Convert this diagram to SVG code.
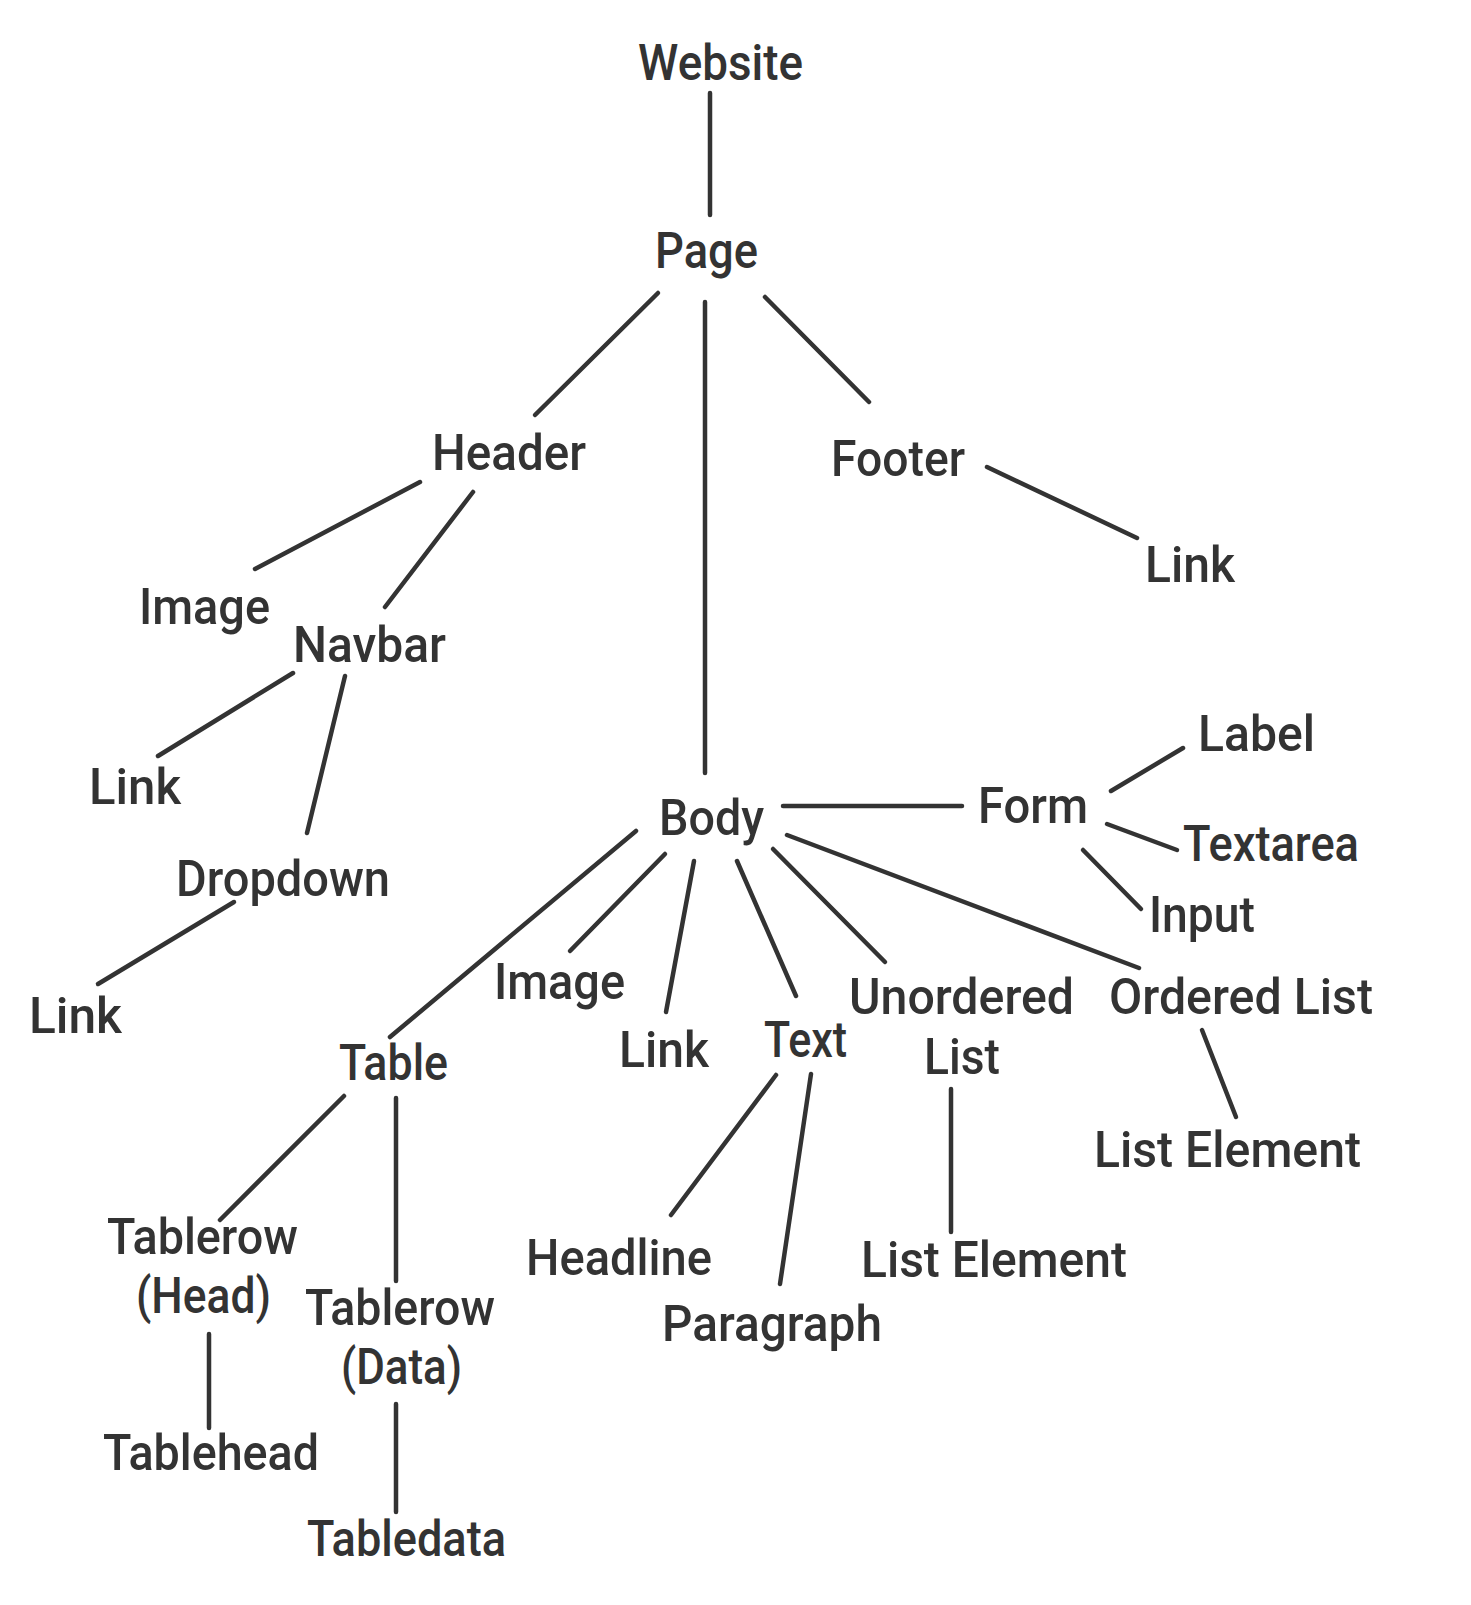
<svg xmlns="http://www.w3.org/2000/svg" width="1471" height="1605" viewBox="0 0 1471 1605">
<style>
  .t { font-family: Roboto, "Liberation Sans", sans-serif; font-size: 50px; font-weight: 500; fill: #333333; }
  .c line { stroke: #333333; stroke-width: 4.5; stroke-linecap: round; fill: none; }
</style>
<rect width="1471" height="1605" fill="#ffffff"/>
<g class="c" id="connectors">
  <line x1="710" y1="93" x2="710" y2="215"/>
  <line x1="658" y1="293" x2="535" y2="415"/>
  <line x1="705" y1="302" x2="705" y2="773"/>
  <line x1="765" y1="297" x2="869" y2="402"/>
  <line x1="420" y1="482" x2="255" y2="569"/>
  <line x1="473" y1="492" x2="385" y2="607"/>
  <line x1="987" y1="467" x2="1137" y2="538"/>
  <line x1="293" y1="673" x2="158" y2="756"/>
  <line x1="345" y1="676" x2="307" y2="833"/>
  <line x1="234" y1="902" x2="98" y2="984"/>
  <line x1="783" y1="806" x2="962" y2="806"/>
  <line x1="1111" y1="791" x2="1183" y2="748"/>
  <line x1="1107" y1="824" x2="1177" y2="850"/>
  <line x1="1083" y1="850" x2="1141" y2="909"/>
  <line x1="636" y1="831" x2="390" y2="1037"/>
  <line x1="665" y1="854" x2="570" y2="951"/>
  <line x1="694" y1="861" x2="666" y2="1012"/>
  <line x1="737" y1="861" x2="796" y2="996"/>
  <line x1="773" y1="849" x2="885" y2="962"/>
  <line x1="787" y1="835" x2="1139" y2="968"/>
  <line x1="1202" y1="1030" x2="1236" y2="1117"/>
  <line x1="951" y1="1089" x2="951" y2="1232"/>
  <line x1="776" y1="1075" x2="671" y2="1215"/>
  <line x1="811" y1="1074" x2="780" y2="1284"/>
  <line x1="344" y1="1096" x2="220" y2="1220"/>
  <line x1="396" y1="1098" x2="396" y2="1281"/>
  <line x1="209" y1="1334" x2="209" y2="1428"/>
  <line x1="396" y1="1404" x2="396" y2="1512"/>
</g>
<g id="website"><text class="t" x="638" y="80" textLength="165" lengthAdjust="spacingAndGlyphs">Website</text></g>
<g id="page"><text class="t" x="655" y="268" textLength="103" lengthAdjust="spacingAndGlyphs">Page</text></g>
<g id="header"><text class="t" x="432" y="470" textLength="154" lengthAdjust="spacingAndGlyphs">Header</text></g>
<g id="footer"><text class="t" x="831" y="476" textLength="134" lengthAdjust="spacingAndGlyphs">Footer</text></g>
<g id="footer-link"><text class="t" x="1145" y="582" textLength="90" lengthAdjust="spacingAndGlyphs">Link</text></g>
<g id="header-image"><text class="t" x="139" y="624" textLength="131" lengthAdjust="spacingAndGlyphs">Image</text></g>
<g id="navbar"><text class="t" x="293" y="662" textLength="153" lengthAdjust="spacingAndGlyphs">Navbar</text></g>
<g id="navbar-link"><text class="t" x="89" y="804" textLength="92" lengthAdjust="spacingAndGlyphs">Link</text></g>
<g id="dropdown"><text class="t" x="176" y="896" textLength="214" lengthAdjust="spacingAndGlyphs">Dropdown</text></g>
<g id="dropdown-link"><text class="t" x="29" y="1033" textLength="93" lengthAdjust="spacingAndGlyphs">Link</text></g>
<g id="body"><text class="t" x="659" y="835" textLength="105" lengthAdjust="spacingAndGlyphs">Body</text></g>
<g id="form"><text class="t" x="978" y="823" textLength="110" lengthAdjust="spacingAndGlyphs">Form</text></g>
<g id="label"><text class="t" x="1198" y="751" textLength="117" lengthAdjust="spacingAndGlyphs">Label</text></g>
<g id="textarea"><text class="t" x="1183" y="861" textLength="176" lengthAdjust="spacingAndGlyphs">Textarea</text></g>
<g id="input"><text class="t" x="1149" y="932" textLength="106" lengthAdjust="spacingAndGlyphs">Input</text></g>
<g id="body-image"><text class="t" x="494" y="999" textLength="131" lengthAdjust="spacingAndGlyphs">Image</text></g>
<g id="body-link"><text class="t" x="619" y="1067" textLength="90" lengthAdjust="spacingAndGlyphs">Link</text></g>
<g id="table"><text class="t" x="339" y="1080" textLength="109" lengthAdjust="spacingAndGlyphs">Table</text></g>
<g id="text"><text class="t" x="764" y="1057" textLength="83" lengthAdjust="spacingAndGlyphs">Text</text></g>
<g id="unordered-list">
  <text class="t" x="849" y="1014" textLength="225" lengthAdjust="spacingAndGlyphs">Unordered</text>
  <text class="t" x="924" y="1074" textLength="76" lengthAdjust="spacingAndGlyphs">List</text>
</g>
<g id="ordered-list"><text class="t" x="1109" y="1014" textLength="264" lengthAdjust="spacingAndGlyphs">Ordered List</text></g>
<g id="ordered-list-element"><text class="t" x="1094" y="1167" textLength="267" lengthAdjust="spacingAndGlyphs">List Element</text></g>
<g id="unordered-list-element"><text class="t" x="861" y="1277" textLength="266" lengthAdjust="spacingAndGlyphs">List Element</text></g>
<g id="headline"><text class="t" x="526" y="1275" textLength="186" lengthAdjust="spacingAndGlyphs">Headline</text></g>
<g id="paragraph"><text class="t" x="662" y="1341" textLength="220" lengthAdjust="spacingAndGlyphs">Paragraph</text></g>
<g id="tablerow-head">
  <text class="t" x="107" y="1254" textLength="191" lengthAdjust="spacingAndGlyphs">Tablerow</text>
  <text class="t" x="136" y="1313" textLength="135" lengthAdjust="spacingAndGlyphs">(Head)</text>
</g>
<g id="tablehead"><text class="t" x="103" y="1470" textLength="216" lengthAdjust="spacingAndGlyphs">Tablehead</text></g>
<g id="tablerow-data">
  <text class="t" x="305" y="1325" textLength="190" lengthAdjust="spacingAndGlyphs">Tablerow</text>
  <text class="t" x="341" y="1384" textLength="121" lengthAdjust="spacingAndGlyphs">(Data)</text>
</g>
<g id="tabledata"><text class="t" x="307" y="1556" textLength="199" lengthAdjust="spacingAndGlyphs">Tabledata</text></g>
</svg>
